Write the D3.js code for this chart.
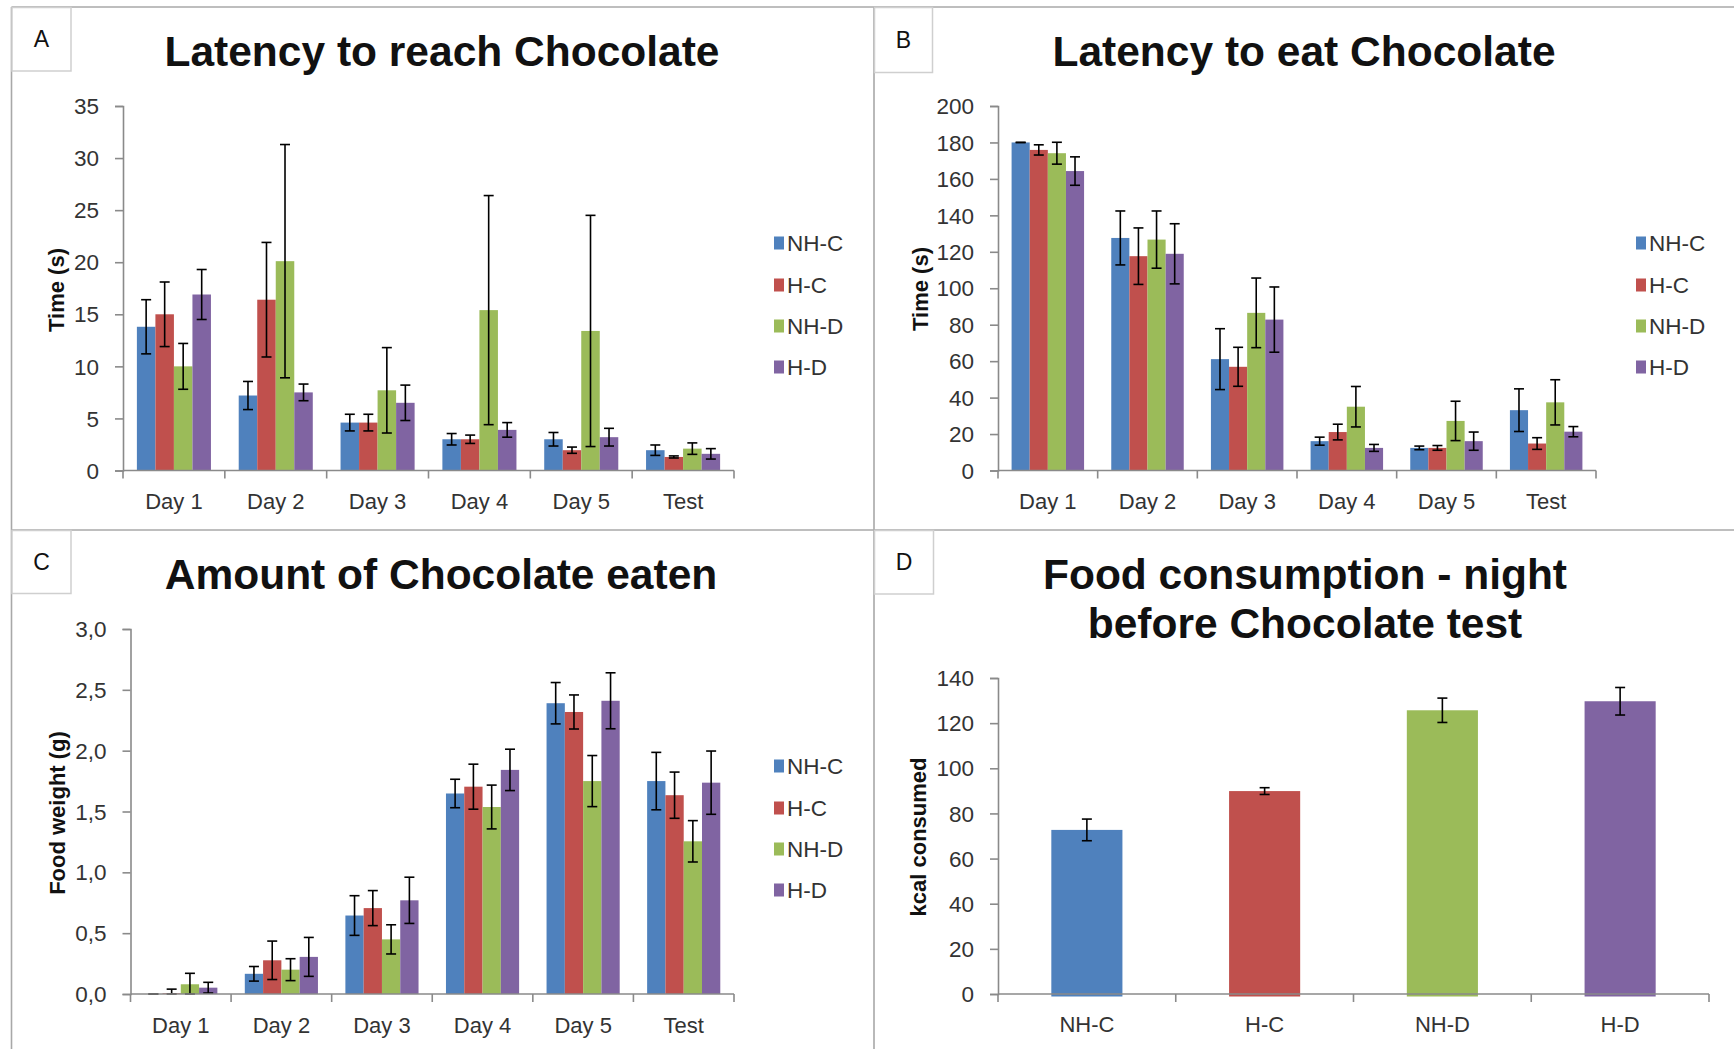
<!DOCTYPE html>
<html><head><meta charset="utf-8">
<script src="https://cdn.jsdelivr.net/npm/d3@7"></script>
<style>
body{margin:0;background:#fff;}
svg{display:block;font-family:"Liberation Sans",Arial,sans-serif;}
</style></head>
<body>
<svg id="c" width="1734" height="1049"></svg>
<script>
// ---------- DATA ----------
const groups = ["NH-C", "H-C", "NH-D", "H-D"];
const days = ["Day 1", "Day 2", "Day 3", "Day 4", "Day 5", "Test"];
const colors = ["#4F81BD", "#C0504D", "#9BBB59", "#8064A2"];

// A: Latency to reach Chocolate (s)
const reachNHC = [13.8, 7.2, 4.6, 3.0, 3.0, 1.95];
const reachNHCerr = [2.6, 1.35, 0.8, 0.55, 0.65, 0.5];
const reachHC = [15.0, 16.4, 4.6, 3.0, 1.95, 1.3];
const reachHCerr = [3.1, 5.5, 0.8, 0.4, 0.3, 0.1];
const reachNHD = [10.0, 20.1, 7.7, 15.4, 13.4, 2.1];
const reachNHDerr = [2.2, 11.2, 4.1, 11.0, 11.1, 0.55];
const reachHD = [16.9, 7.5, 6.5, 3.9, 3.2, 1.6];
const reachHDerr = [2.4, 0.8, 1.7, 0.7, 0.85, 0.5];
const reachTicks = [0, 5, 10, 15, 20, 25, 30, 35];

// B: Latency to eat Chocolate (s)
const eatNHC = [180, 127.6, 61.1, 16.1, 12.4, 33.1];
const eatNHCerr = [0, 14.8, 16.7, 2.2, 1.0, 11.7];
const eatHC = [175.9, 117.6, 56.9, 21.1, 12.4, 14.8];
const eatHCerr = [2.8, 15.5, 10.7, 4.3, 1.3, 3.2];
const eatNHD = [174.1, 126.7, 86.5, 35.0, 27.2, 37.4];
const eatNHDerr = [6, 15.7, 19.1, 11.1, 10.8, 12.4];
const eatHD = [164.3, 118.9, 82.8, 12.4, 16.1, 21.3];
const eatHDerr = [7.8, 16.5, 17.9, 1.9, 5.0, 2.8];
const eatTicks = [0, 20, 40, 60, 80, 100, 120, 140, 160, 180, 200];

// C: Amount of Chocolate eaten (g)
const eatenNHC = [0, 0.166, 0.645, 1.648, 2.39, 1.75];
const eatenNHCerr = [0, 0.06, 0.163, 0.117, 0.17, 0.236];
const eatenHC = [0.005, 0.277, 0.706, 1.704, 2.318, 1.634];
const eatenHCerr = [0.035, 0.158, 0.144, 0.185, 0.14, 0.19];
const eatenNHD = [0.08, 0.2, 0.449, 1.537, 1.75, 1.255];
const eatenNHDerr = [0.09, 0.09, 0.12, 0.18, 0.21, 0.17];
const eatenHD = [0.052, 0.305, 0.77, 1.842, 2.41, 1.737];
const eatenHDerr = [0.044, 0.16, 0.19, 0.17, 0.23, 0.26];
const eatenTicks = [0, 0.5, 1.0, 1.5, 2.0, 2.5, 3.0];
const eatenTickLabels = ["0,0", "0,5", "1,0", "1,5", "2,0", "2,5", "3,0"];

// D: Food consumption night before test (kcal)
const kcal = [72.7, 89.9, 125.7, 129.7];
const kcalErr = [4.8, 1.5, 5.4, 6.1];
const kcalTicks = [0, 20, 40, 60, 80, 100, 120, 140];

// ---------- DRAW ----------
const svg = d3.select("#c");
svg.append("rect").attr("width", 1734).attr("height", 1049).attr("fill", "#fff");
const AX = "#8a8a8a", TXT = "#333";

// outer frame lines
const frame = svg.append("g").attr("stroke", "#a8a8a8").attr("stroke-width", 1.6);
frame.append("line").attr("x1", 11.5).attr("x2", 1734).attr("y1", 7).attr("y2", 7);
frame.append("line").attr("x1", 11.5).attr("x2", 11.5).attr("y1", 7).attr("y2", 1049);
frame.append("line").attr("x1", 874).attr("x2", 874).attr("y1", 7).attr("y2", 1049);
frame.append("line").attr("x1", 11.5).attr("x2", 1734).attr("y1", 530).attr("y2", 530);

function labelBox(x, y, w, h, t) {
  svg.append("rect").attr("x", x).attr("y", y).attr("width", w).attr("height", h)
    .attr("fill", "#fff").attr("stroke", "#cfcfcf").attr("stroke-width", 1.5);
  svg.append("text").attr("x", x + w / 2).attr("y", y + h / 2 + 8)
    .attr("text-anchor", "middle").attr("font-size", 23).attr("fill", "#111").text(t);
}
labelBox(12, 7.5, 59, 63.5, "A");
labelBox(874.5, 7.5, 58, 65, "B");
labelBox(12, 530.5, 59, 63, "C");
labelBox(874.5, 530.5, 59, 63.5, "D");

function title(lines, cx, y0) {
  lines.forEach((l, i) => {
    svg.append("text").attr("x", cx).attr("y", y0 + i * 49).attr("text-anchor", "middle")
      .attr("font-size", 42.5).attr("font-weight", "bold").attr("fill", "#111").text(l);
  });
}

function yAxis(g, y, ticks, labels, x0) {
  const ax = d3.axisLeft(y).tickValues(ticks).tickSize(8).tickPadding(16)
    .tickFormat((d, i) => labels ? labels[i] : d);
  const gg = g.append("g").attr("transform", `translate(${x0},0)`).call(ax);
  gg.select(".domain").attr("stroke", AX).attr("stroke-width", 1.6);
  gg.selectAll(".tick line").attr("stroke", AX).attr("stroke-width", 1.6);
  gg.selectAll(".tick text").attr("font-size", 22.5).attr("fill", TXT)
    .attr("font-family", "'Liberation Sans',Arial,sans-serif").attr("dy", "0.34em");
}

function xAxis(g, x, y0, labelOffset) {
  const ax = d3.axisBottom(x).tickSize(0).tickPadding(0);
  const gg = g.append("g").attr("transform", `translate(0,${y0})`).call(ax);
  gg.select(".domain").remove();
  gg.selectAll(".tick text").attr("font-size", 22).attr("fill", TXT)
    .attr("font-family", "'Liberation Sans',Arial,sans-serif")
    .attr("y", labelOffset).attr("dy", "0.35em");
  const r = x.range();
  g.append("line").attr("x1", r[0]).attr("x2", r[1]).attr("y1", y0).attr("y2", y0)
    .attr("stroke", AX).attr("stroke-width", 1.6);
  const bounds = x.domain().map(d => x(d)).concat([r[1]]);
  g.selectAll(null).data(bounds).enter().append("line")
    .attr("x1", d => d).attr("x2", d => d).attr("y1", y0).attr("y2", y0 + 8)
    .attr("stroke", AX).attr("stroke-width", 1.6);
}

function yTitle(g, t, cx, cy) {
  g.append("text").attr("transform", `translate(${cx},${cy}) rotate(-90)`)
    .attr("text-anchor", "middle").attr("dy", "0.35em")
    .attr("font-size", 22).attr("font-weight", "bold").attr("fill", "#111").text(t);
}

function legend(g, lx, ys) {
  groups.forEach((gname, i) => {
    g.append("rect").attr("x", lx).attr("y", ys[i] - 6.5).attr("width", 10).attr("height", 13)
      .attr("fill", colors[i]);
    g.append("text").attr("x", lx + 13).attr("y", ys[i]).attr("dy", "0.36em")
      .attr("font-size", 22.5).attr("fill", TXT).text(gname);
  });
}

function errBar(g, cx, yv, yTop, yBot) {
  g.append("line").attr("x1", cx).attr("x2", cx).attr("y1", yTop).attr("y2", yBot)
    .attr("stroke", "#000").attr("stroke-width", 1.6);
  [yTop, yBot].forEach(yy => g.append("line").attr("x1", cx - 5).attr("x2", cx + 5)
    .attr("y1", yy).attr("y2", yy).attr("stroke", "#000").attr("stroke-width", 1.6));
}

function groupedPanel(cfg) {
  const g = svg.append("g");
  const x = d3.scaleBand().domain(days).range([cfg.x0, cfg.x1]).paddingInner(0).paddingOuter(0);
  const xs = d3.scaleBand().domain(groups).range([0, x.bandwidth()]).paddingInner(0).paddingOuter(0.75);
  const y = d3.scaleLinear().domain([0, cfg.max]).range([cfg.y0, cfg.yTop]);
  cfg.series.forEach((vals, si) => {
    g.selectAll(null).data(vals).enter().append("rect")
      .attr("x", (d, i) => x(days[i]) + xs(groups[si]))
      .attr("width", xs.bandwidth())
      .attr("y", d => y(d)).attr("height", d => y(0) - y(d))
      .attr("fill", colors[si]);
  });
  cfg.series.forEach((vals, si) => {
    vals.forEach((v, i) => {
      if (cfg.errs[si][i] == null) return;
      const e = cfg.errs[si][i];
      const cx = x(days[i]) + xs(groups[si]) + xs.bandwidth() / 2;
      errBar(g, cx, y(v), y(v + e), y(Math.max(0, v - e)));
    });
  });
  yAxis(g, y, cfg.ticks, cfg.tickLabels, cfg.x0);
  xAxis(g, x, cfg.y0, 31);
  yTitle(g, cfg.ytitle, cfg.tx, cfg.ty);
  legend(g, cfg.lx, cfg.ly);
}

// Panel A
title(["Latency to reach Chocolate"], 442, 66);
groupedPanel({
  x0: 123, x1: 734, y0: 470.5, yTop: 106, max: 35, ticks: reachTicks,
  series: [reachNHC, reachHC, reachNHD, reachHD],
  errs: [reachNHCerr, reachHCerr, reachNHDerr, reachHDerr],
  ytitle: "Time (s)", tx: 56, ty: 290, lx: 774, ly: [243, 285, 326, 367]
});

// Panel B
title(["Latency to eat Chocolate"], 1304, 66);
groupedPanel({
  x0: 998, x1: 1596, y0: 470.5, yTop: 106, max: 200, ticks: eatTicks,
  series: [eatNHC, eatHC, eatNHD, eatHD],
  errs: [eatNHCerr, eatHCerr, eatNHDerr, eatHDerr],
  ytitle: "Time (s)", tx: 920, ty: 289, lx: 1636, ly: [243, 285, 326, 367]
});

// Panel C
title(["Amount of Chocolate eaten"], 441, 589);
groupedPanel({
  x0: 130.5, x1: 734, y0: 994, yTop: 629, max: 3.0, ticks: eatenTicks, tickLabels: eatenTickLabels,
  series: [eatenNHC, eatenHC, eatenNHD, eatenHD],
  errs: [eatenNHCerr, eatenHCerr, eatenNHDerr, eatenHDerr],
  ytitle: "Food weight (g)", tx: 57, ty: 813, lx: 774, ly: [766, 808, 849, 890]
});

// Panel D
title(["Food consumption - night", "before Chocolate test"], 1305, 589);
(function () {
  const g = svg.append("g");
  const x0 = 998, x1 = 1709, y0 = 994, yTop = 678;
  const x = d3.scaleBand().domain(groups).range([x0, x1]).paddingInner(0.6).paddingOuter(0.3);
  const y = d3.scaleLinear().domain([0, 140]).range([y0, yTop]);
  g.selectAll(null).data(kcal).enter().append("rect")
    .attr("x", (d, i) => x(groups[i])).attr("width", x.bandwidth())
    .attr("y", d => y(d)).attr("height", d => y(0) - y(d) + 2.5)
    .attr("fill", (d, i) => colors[i]);
  kcal.forEach((v, i) => {
    const cx = x(groups[i]) + x.bandwidth() / 2;
    errBar(g, cx, y(v), y(v + kcalErr[i]), y(v - kcalErr[i]));
  });
  yAxis(g, y, kcalTicks, null, x0);
  const xb = d3.scaleBand().domain(groups).range([x0, x1]).padding(0);
  const ax = d3.axisBottom(x).tickSize(0).tickPadding(0);
  const gg = g.append("g").attr("transform", `translate(0,${y0})`).call(ax);
  gg.select(".domain").remove();
  gg.selectAll(".tick text").attr("font-size", 22).attr("fill", TXT)
    .attr("font-family", "'Liberation Sans',Arial,sans-serif").attr("y", 30).attr("dy", "0.35em");
  g.append("line").attr("x1", x0).attr("x2", x1).attr("y1", y0).attr("y2", y0)
    .attr("stroke", AX).attr("stroke-width", 1.6);
  const bounds = groups.map(d => xb(d)).concat([x1]);
  g.selectAll(null).data(bounds).enter().append("line")
    .attr("x1", d => d).attr("x2", d => d).attr("y1", y0).attr("y2", y0 + 8)
    .attr("stroke", AX).attr("stroke-width", 1.6);
  yTitle(g, "kcal consumed", 918, 837);
})();
</script>
</body></html>
